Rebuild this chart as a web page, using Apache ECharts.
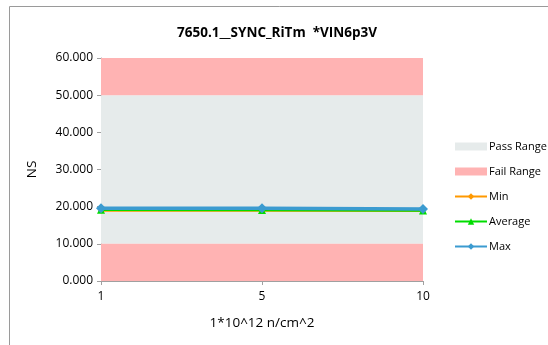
<!DOCTYPE html>
<html><head><meta charset="utf-8">
<script src="https://cdn.jsdelivr.net/npm/echarts@6/dist/echarts.min.js"></script>
<style>html,body{margin:0;padding:0;background:#fff}#c{width:548px;height:345px}</style>
</head><body><div id="c"></div>
<script>
const categories = ['1', '5', '10'];
const minValues = [19.0, 19.0, 18.9];
const avgValues = [19.2, 19.1, 19.0];
const maxValues = [19.6, 19.6, 19.4];
const passRange = [10, 50];
const failRanges = [[0, 10], [50, 60]];
const yTicks = [0, 10, 20, 30, 40, 50, 60];

const font = 'Open Sans';
const chart = echarts.init(document.getElementById('c'), null, {renderer: 'canvas'});
chart.setOption({
  animation: false,
  textStyle: {fontFamily: font},
  graphic: [{type: 'rect', shape: {x: 9.5, y: 6.5, width: 700, height: 500}, style: {fill: 'none', stroke: '#9a9a9a', lineWidth: 1}, z: -1}],
  title: {text: '7650.1__SYNC_RiTm  *VIN6p3V', left: 272, top: 21, textAlign: 'center',
    textStyle: {fontFamily: font, fontSize: 13.5, fontWeight: 'bold', color: '#000'}},
  grid: {left: 101, right: 125, top: 58, bottom: 64},
  legend: {orient: 'vertical', left: 449, top: 133, itemGap: 8, itemWidth: 32, itemHeight: 8,
    textStyle: {fontFamily: font, fontSize: 11, color: '#000', padding: [0, 0, 0, -3], lineHeight: 17},
    data: [
      {name: 'Pass Range', icon: 'rect'},
      {name: 'Fail Range', icon: 'rect'},
      {name: 'Min'}, {name: 'Average'}, {name: 'Max'}
    ]},
  xAxis: {type: 'category', data: categories, boundaryGap: false,
    name: '1*10^12 n/cm^2', nameLocation: 'middle', nameGap: 35,
    nameTextStyle: {fontFamily: font, fontSize: 13.5, color: '#000'},
    axisLine: {lineStyle: {color: '#a0a0a0'}},
    axisTick: {show: true, lineStyle: {color: '#a0a0a0'}, length: 4},
    axisLabel: {fontFamily: font, fontSize: 12, color: '#000', margin: 10}},
  yAxis: {type: 'value', min: yTicks[0], max: yTicks[yTicks.length - 1], interval: 10,
    name: 'NS', nameLocation: 'middle', nameGap: 62,
    nameTextStyle: {fontFamily: font, fontSize: 13.5, color: '#000'},
    axisLine: {show: true, lineStyle: {color: '#a0a0a0'}},
    axisTick: {show: true, lineStyle: {color: '#a0a0a0'}, length: 4},
    splitLine: {show: false},
    axisLabel: {fontFamily: font, fontSize: 12, color: '#000', margin: 8, formatter: v => v.toFixed(3)}},
  series: [
    {name: 'Pass Range', type: 'line', data: [], itemStyle: {color: '#e6ebeb'}, lineStyle: {color: '#e6ebeb'},
      markArea: {silent: true, itemStyle: {color: '#e6ebeb'}, data: [[{yAxis: passRange[0]}, {yAxis: passRange[1]}]]}, z: 0},
    {name: 'Fail Range', type: 'line', data: [], itemStyle: {color: '#ffb3b3'}, lineStyle: {color: '#ffb3b3'},
      markArea: {silent: true, itemStyle: {color: '#ffb3b3'}, data: failRanges.map(r => [{yAxis: r[0]}, {yAxis: r[1]}])}, z: 0},
    {name: 'Min', type: 'line', data: minValues, color: '#ff9900', lineStyle: {width: 2.5, color: '#ff9900'},
      symbol: 'diamond', symbolSize: 6, itemStyle: {color: '#ff9900'}, z: 3},
    {name: 'Average', type: 'line', data: avgValues, color: '#00dd00', lineStyle: {width: 2.5, color: '#00dd00'},
      symbol: 'triangle', symbolSize: 8, itemStyle: {color: '#00dd00'}, z: 4},
    {name: 'Max', type: 'line', data: maxValues, color: '#3b9bd0', lineStyle: {width: 3.5, color: '#3b9bd0'},
      symbol: 'diamond', symbolSize: 10, itemStyle: {color: '#3b9bd0'}, z: 5}
  ]
});
</script></body></html>
